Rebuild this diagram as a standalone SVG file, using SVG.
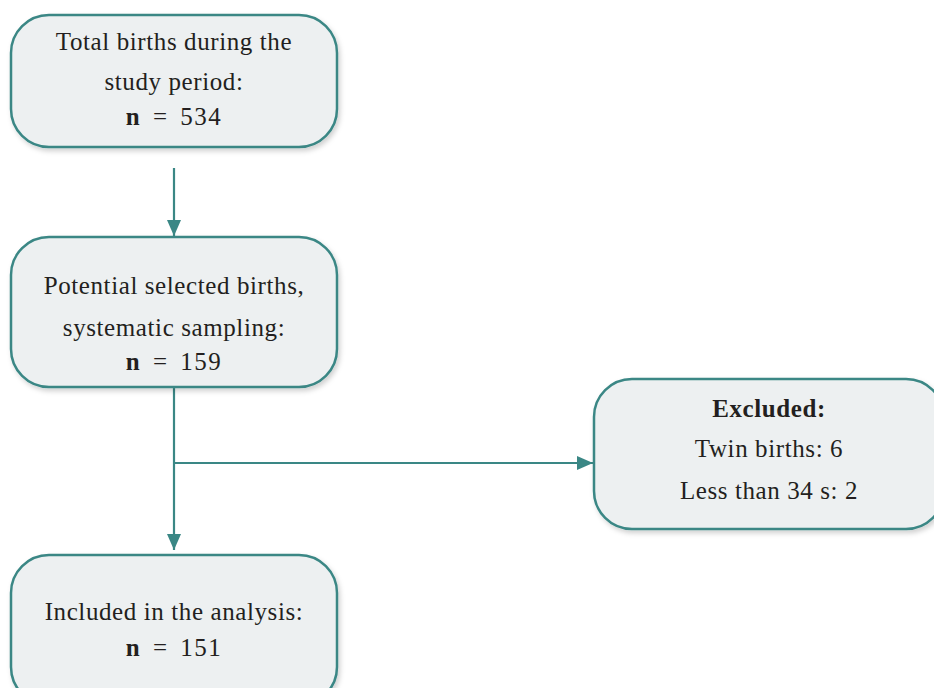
<svg xmlns="http://www.w3.org/2000/svg" width="934" height="688" viewBox="0 0 934 688">
<defs>
<style>
.box{fill:#edf0f1;stroke:#3a8785;stroke-width:2.5;filter:url(#sh)}
.t{font-family:"Liberation Serif","DejaVu Serif",serif;font-size:25px;letter-spacing:0.6px;fill:#231f20;text-anchor:middle}
.n{word-spacing:4px;letter-spacing:1.5px}
.b{font-weight:bold}
.c{stroke:#3a8785;stroke-width:2.2;fill:none}
</style>
<filter id="sh" x="-10%" y="-10%" width="130%" height="130%">
<feDropShadow dx="2" dy="3" stdDeviation="2.5" flood-color="#000" flood-opacity="0.18"/>
</filter>
<marker id="ahv" viewBox="0 0 16 14" refX="16" refY="7" markerWidth="16" markerHeight="14" markerUnits="userSpaceOnUse" orient="auto">
<path d="M0,0 L16,7 L0,14 Z" fill="#3a8785"/>
</marker>
</defs>
<g id="connectors">
<line class="c" x1="174" y1="168" x2="174" y2="236" marker-end="url(#ahv)"/>
<line class="c" x1="174" y1="388" x2="174" y2="550" marker-end="url(#ahv)"/>
<line class="c" x1="174" y1="463" x2="593" y2="463" marker-end="url(#ahv)"/>
</g>
<g id="n1">
<rect class="box" x="11" y="15" width="326" height="132" rx="38"/>
<text class="t" x="174" y="50">Total births during the</text>
<text class="t" x="174" y="90">study period:</text>
<text class="t n" x="174" y="125"><tspan class="b">n</tspan> = 534</text>
</g>
<g id="n2">
<rect class="box" x="11" y="237" width="326" height="150" rx="38"/>
<text class="t" x="174" y="294">Potential selected births,</text>
<text class="t" x="174" y="336">systematic sampling:</text>
<text class="t n" x="174" y="370"><tspan class="b">n</tspan> = 159</text>
</g>
<g id="n3">
<rect class="box" x="594" y="379" width="350" height="150" rx="38"/>
<text class="t b" x="769" y="417">Excluded:</text>
<text class="t" x="769" y="457">Twin births: 6</text>
<text class="t" x="769" y="499">Less than 34 s: 2</text>
</g>
<g id="n4">
<rect class="box" x="11" y="555" width="326" height="150" rx="38"/>
<text class="t" x="174" y="620">Included in the analysis:</text>
<text class="t n" x="174" y="656"><tspan class="b">n</tspan> = 151</text>
</g>
</svg>
